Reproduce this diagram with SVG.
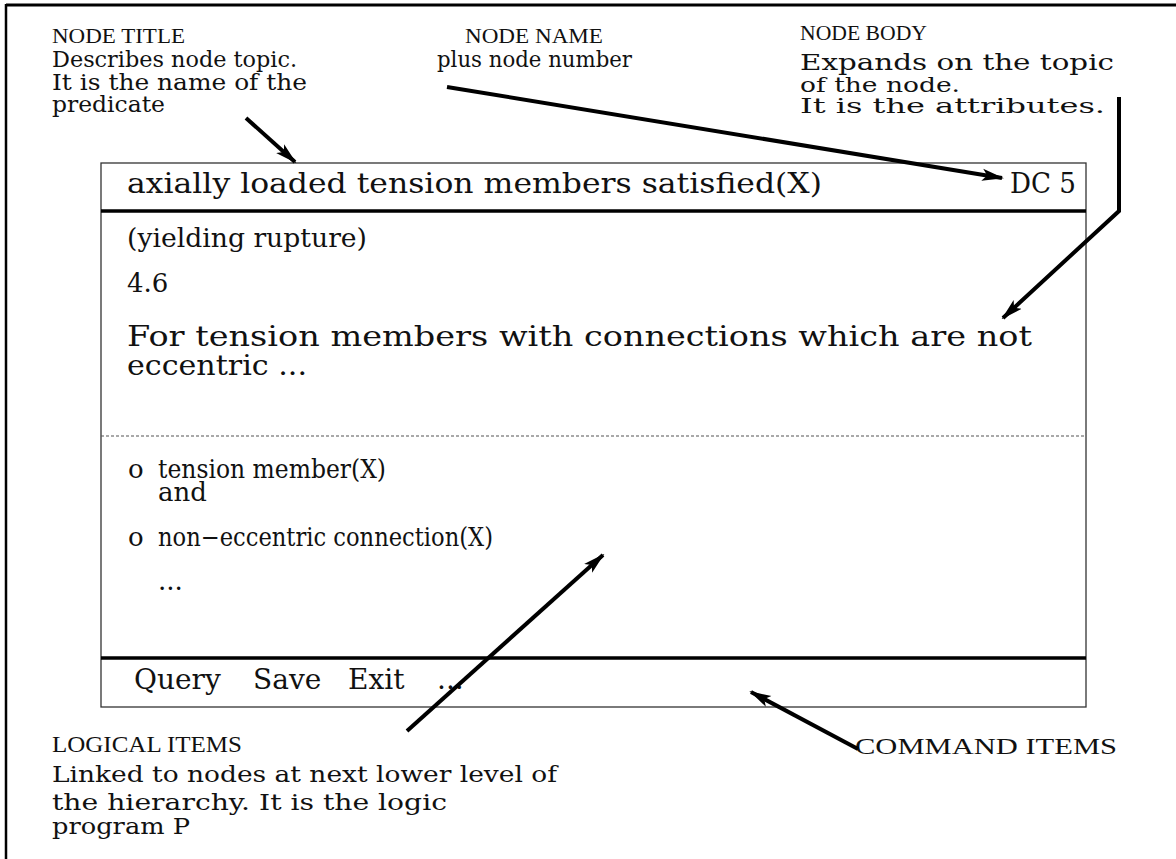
<svg xmlns="http://www.w3.org/2000/svg" width="1176" height="859" viewBox="0 0 1176 859">
<style>
.lbl{font-family:"DejaVu Serif","Liberation Serif",serif;font-size:23px;fill:#111}
.lbs{font-family:"DejaVu Serif","Liberation Serif",serif;font-size:20px;fill:#111}
.lbr{font-family:"DejaVu Serif","Liberation Serif",serif;font-size:23px;fill:#111}
.cap{font-family:"Liberation Serif","DejaVu Serif",serif;font-size:22px;fill:#111}
.cap2{font-family:"Liberation Serif","DejaVu Serif",serif;font-size:24px;fill:#111}
.box{font-family:"DejaVu Serif","Liberation Serif",serif;font-size:28px;fill:#111}
.li{font-family:"DejaVu Serif","Liberation Serif",serif;font-size:26px;fill:#111}
.thin{fill:none;stroke:#333;stroke-width:1.3}
.thick{fill:none;stroke:#000;stroke-width:3.5}
.arr{fill:none;stroke:#000;stroke-width:4;marker-end:url(#ah)}
</style>
<defs>
<marker id="ah" markerUnits="userSpaceOnUse" markerWidth="22" markerHeight="14" viewBox="0 0 22 14" refX="20" refY="7" orient="auto">
<path d="M0,1 L22,7 L0,13 L5,7 Z" fill="#000"/>
</marker>
</defs>
<rect width="1176" height="859" fill="#fff"/>
<g id="frame">
<line x1="6" y1="5" x2="1176" y2="5" stroke="#000" stroke-width="3"/>
<line x1="6" y1="4" x2="6" y2="859" stroke="#000" stroke-width="2.5"/>
</g>
<g id="node-window">
<rect class="thin" x="101" y="163" width="985" height="544"/>
<line class="thick" x1="101" y1="211" x2="1086" y2="211"/>
<line x1="101" y1="436" x2="1086" y2="436" stroke="#555" stroke-width="1.2" stroke-dasharray="3,2"/>
<line class="thick" x1="101" y1="658" x2="1086" y2="658"/>
<text class="box" x="127" y="193" textLength="695" lengthAdjust="spacingAndGlyphs">axially loaded tension members satisfied(X)</text>
<text class="box" x="1010" y="193" textLength="66" lengthAdjust="spacingAndGlyphs">DC 5</text>
<text class="li" x="127" y="247" textLength="240" lengthAdjust="spacingAndGlyphs">(yielding rupture)</text>
<text class="li" x="127" y="292">4.6</text>
<text class="box" x="127" y="346" textLength="905" lengthAdjust="spacingAndGlyphs">For tension members with connections which are not</text>
<text class="box" x="127" y="375" textLength="180" lengthAdjust="spacingAndGlyphs">eccentric ...</text>
<text class="li" x="128" y="478">o</text>
<text class="li" x="158" y="478" textLength="228" lengthAdjust="spacingAndGlyphs">tension member(X)</text>
<text class="li" x="158" y="501">and</text>
<text class="li" x="128" y="546">o</text>
<text class="li" x="158" y="546" textLength="335" lengthAdjust="spacingAndGlyphs">non−eccentric connection(X)</text>
<text class="li" x="158" y="590">...</text>
<text class="box" x="134" y="689">Query</text>
<text class="box" x="253" y="689">Save</text>
<text class="box" x="348" y="689">Exit</text>
<text class="box" x="437" y="689">...</text>
</g>
<g id="label-node-title">
<text class="cap" x="52" y="43" textLength="133" lengthAdjust="spacingAndGlyphs">NODE TITLE</text>
<text class="lbl" x="52" y="67" textLength="245" lengthAdjust="spacingAndGlyphs">Describes node topic.</text>
<text class="lbl" x="52" y="90" textLength="255" lengthAdjust="spacingAndGlyphs">It is the name of the</text>
<text class="lbl" x="52" y="112" textLength="113" lengthAdjust="spacingAndGlyphs">predicate</text>
</g>
<g id="label-node-name">
<text class="cap" x="465" y="43" textLength="138" lengthAdjust="spacingAndGlyphs">NODE NAME</text>
<text class="lbl" x="437" y="67" textLength="195" lengthAdjust="spacingAndGlyphs">plus node number</text>
</g>
<g id="label-node-body">
<text class="cap" x="800" y="40" textLength="127" lengthAdjust="spacingAndGlyphs">NODE BODY</text>
<text class="lbl" x="800" y="70" textLength="314" lengthAdjust="spacingAndGlyphs">Expands on the topic</text>
<text class="lbs" x="800" y="92" textLength="160" lengthAdjust="spacingAndGlyphs">of the node.</text>
<text class="lbs" x="800" y="113" textLength="305" lengthAdjust="spacingAndGlyphs">It is the attributes.</text>
</g>
<g id="label-logical-items">
<text class="cap2" x="52" y="752" textLength="190" lengthAdjust="spacingAndGlyphs">LOGICAL ITEMS</text>
<text class="lbr" x="52" y="782" textLength="505" lengthAdjust="spacingAndGlyphs">Linked to nodes at next lower level of</text>
<text class="lbr" x="52" y="810" textLength="395" lengthAdjust="spacingAndGlyphs">the hierarchy. It is the logic</text>
<text class="lbr" x="52" y="834" textLength="138" lengthAdjust="spacingAndGlyphs">program P</text>
</g>
<g id="label-command-items">
<text class="cap2" x="855" y="754" textLength="262" lengthAdjust="spacingAndGlyphs">COMMAND ITEMS</text>
</g>
<g id="connectors">
<path class="arr" d="M246,118 L295,162"/>
<path class="arr" d="M447,87 L1002,178"/>
<path class="arr" d="M1119,97 L1119,211 L1003,318"/>
<path class="arr" d="M407,731 L603,555"/>
<path class="arr" d="M858,749 L751,692"/>
</g>
</svg>
